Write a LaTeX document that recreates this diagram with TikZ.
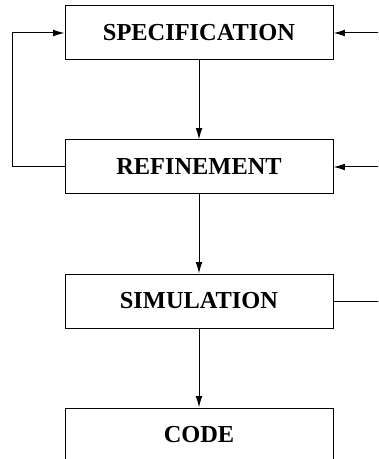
\documentclass[tikz,border=0pt]{standalone}
\usepackage{fontspec}
\setmainfont{Liberation Serif}
\usetikzlibrary{arrows.meta}
\begin{document}
\begin{tikzpicture}[x=0.75pt,y=-0.75pt,
  stage/.style={draw,line width=0.75pt,minimum width=201pt,minimum height=40.5pt,inner sep=0pt,
    font=\fontsize{18.3}{21}\selectfont\bfseries},
  conn/.style={line width=0.75pt,-{Latex[length=8.5pt,width=5pt]}},
  plain/.style={line width=0.75pt}]
\useasboundingbox (0,0) rectangle (378,459);
\clip (0,0) rectangle (378,459);
\node[stage] (spec) at (199,33) {SPECIFICATION};
\node[stage] (ref) at (199,167) {REFINEMENT};
\node[stage] (sim) at (199,301) {SIMULATION};
\node[stage] (code) at (199,435) {CODE};
\coordinate (lf) at (12,167);
\coordinate (r1) at (379,33);
\coordinate (r2) at (379,167);
\coordinate (r3) at (379,301);
\draw[conn] (spec) -- (ref);
\draw[conn] (ref) -- (sim);
\draw[conn] (sim) -- (code);
\draw[conn] (ref.west) -- (lf) |- (spec.west);
\draw[conn] (r1) -- (spec.east);
\draw[conn] (r2) -- (ref.east);
\draw[plain] (sim.east) -- (r3);
\end{tikzpicture}
\end{document}
